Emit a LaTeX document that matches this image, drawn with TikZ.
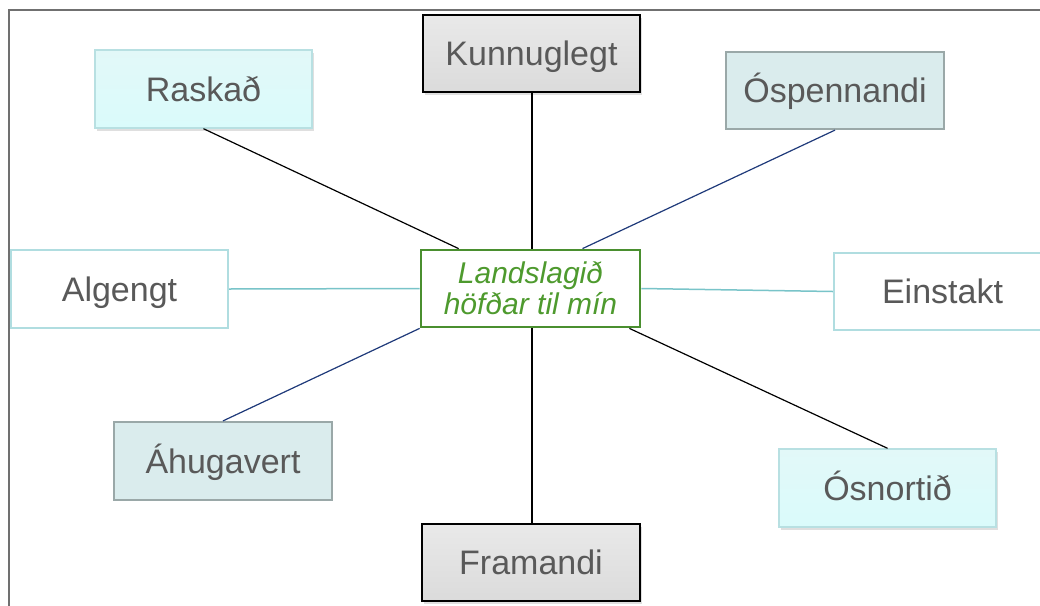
\documentclass[tikz,border=0pt]{standalone}
\usepackage{fontspec}
\setmainfont{Liberation Sans}
\usetikzlibrary{shadows,calc}
\definecolor{txtgrey}{HTML}{595959}
\definecolor{greentxt}{HTML}{4E9A2E}
\definecolor{greenborder}{HTML}{4A8F2F}
\definecolor{tealborder}{HTML}{B0DDE0}
\definecolor{tealline}{HTML}{79C4C9}
\definecolor{darkblue}{HTML}{1F3A7A}
\definecolor{paleblue}{HTML}{DAECED}
\definecolor{greyborder}{HTML}{9AA8A8}
\definecolor{cyantop}{HTML}{E6F7F7}
\definecolor{cyanbot}{HTML}{D6FCFC}
\definecolor{cyanborder}{HTML}{B8E0E2}
\definecolor{greytop}{HTML}{F0F0F0}
\definecolor{greybot}{HTML}{D4D4D4}
\definecolor{frameclr}{HTML}{707070}
\pgfdeclareverticalshading{greysh}{100bp}{color(0bp)=(greybot); color(100bp)=(greytop)}
\pgfdeclareverticalshading{cyansh}{100bp}{color(0bp)=(cyanbot); color(100bp)=(cyantop)}
\tikzset{
  base/.style={rectangle, minimum width=217pt, minimum height=77pt, inner sep=0pt,
    text=txtgrey, font=\fontsize{34}{36}\selectfont, text height=24pt, text depth=0pt},
  greybox/.style={base, draw=black, line width=1.6pt, shading=greysh,
    drop shadow={shadow xshift=1.5pt, shadow yshift=-3pt, opacity=0.25}},
  cyanbox/.style={base, draw=cyanborder, line width=1.4pt, shading=cyansh,
    drop shadow={shadow xshift=1.5pt, shadow yshift=-3pt, opacity=0.25}},
  paleb/.style={base, draw=greyborder, line width=2.2pt, fill=paleblue},
  whiteb/.style={base, draw=tealborder, line width=2.4pt, fill=white},
  centerb/.style={rectangle, minimum width=219pt, minimum height=77pt, inner sep=0pt,
    draw=greenborder, line width=2.8pt, fill=white, text=greentxt,
    font=\fontsize{30}{31}\selectfont\itshape, align=center},
  blackln/.style={draw=black, line width=1.2pt},
  vertln/.style={draw=black, line width=2pt},
  blueln/.style={draw=darkblue, line width=1.2pt},
  tealln/.style={draw=tealline, line width=1.5pt},
  frameln/.style={draw=frameclr, line width=1.5pt}
}
\begin{document}
\begin{tikzpicture}[x=1pt,y=-1pt]
\clip (0,0) rectangle (1040,605);
\fill[white] (0,0) rectangle (1040,605);
\coordinate (fbl) at (9,606);
\coordinate (ftl) at (9,10);
\coordinate (ftr) at (1041,10);
\draw[frameln] (fbl) -- (ftl) -- (ftr);

\node[centerb] (c) at (530.5,288.5) {Landslagið\\höfðar til mín};
\node[greybox] (kun) at (531.5,53.5) {Kunnuglegt};
\node[cyanbox, minimum height=78pt] (ras) at (203.5,89) {Raskað};
\node[paleb, minimum width=218pt] (osp) at (835,90.5) {Óspennandi};
\node[whiteb, minimum height=78pt] (alg) at (119.5,289) {Algengt};
\node[whiteb] (ein) at (942.5,291.5) {Einstakt};
\node[paleb, minimum width=218pt, minimum height=78pt] (ahu) at (223,461) {Áhugavert};
\node[cyanbox, minimum height=78pt] (osn) at (887.5,488) {Ósnortið};
\node[greybox, minimum width=218pt] (fra) at (531,562.5) {Framandi};

\draw[vertln] (kun.south) -- (c.north -| kun.south);
\draw[vertln] (c.south -| kun.south) -- (fra.north -| kun.south);
\draw[blackln] (ras.south) -- ($(c.north west)+(39,0)$);
\draw[blueln] (osp.south) -- ($(c.north)+(52,0)$);
\draw[tealln] (alg.east) -- (c.west);
\draw[tealln] (c.east) -- (ein.west);
\draw[blueln] (ahu.north) -- (c.south west);
\draw[blackln] (osn.north) -- ($(c.south east)+(-12,0)$);
\end{tikzpicture}
\end{document}
